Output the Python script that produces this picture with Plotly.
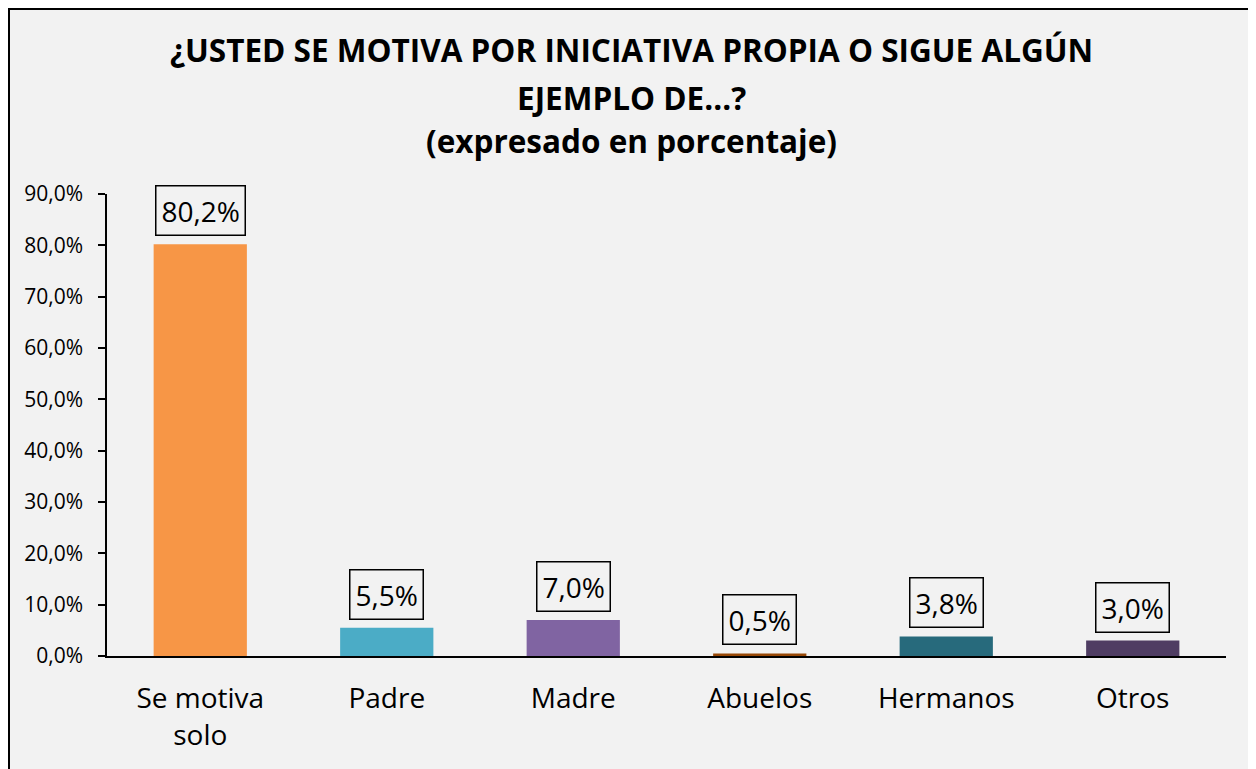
import plotly.graph_objects as go

categories = ["Se motiva<br>solo", "Padre", "Madre", "Abuelos", "Hermanos", "Otros"]
values = [80.2, 5.5, 7.0, 0.5, 3.8, 3.0]
value_labels = ["80,2%", "5,5%", "7,0%", "0,5%", "3,8%", "3,0%"]
colors = ["#f79646", "#4bacc6", "#8064a2", "#984807", "#276a7c", "#4f3d63"]
title_lines = [
    "¿USTED SE MOTIVA POR INICIATIVA PROPIA O SIGUE ALGÚN",
    "EJEMPLO DE...?",
    "(expresado en porcentaje)",
]
y_tick_values = [0, 10, 20, 30, 40, 50, 60, 70, 80, 90]
y_tick_labels = ["0,0%", "10,0%", "20,0%", "30,0%", "40,0%", "50,0%",
                 "60,0%", "70,0%", "80,0%", "90,0%"]

FONT = "Open Sans"
OFF = 8  # page body margin
W, H = 1256 - OFF, 769 - OFF
L, R, T, B = 107 - OFF, 1256 - 1226, 194 - OFF, 769 - 656
pw, ph = W - L - R, H - T - B


def px_x(px):
    return (px - OFF - L) / pw


def px_y(py):
    return (H - B - (py - OFF)) / ph


fig = go.Figure()
fig.add_trace(go.Bar(
    x=categories, y=values, marker=dict(color=colors, line=dict(width=0)),
    width=0.5, hoverinfo="skip",
))

annotations = []
for c, v, t in zip(categories, values, value_labels):
    annotations.append(dict(
        x=c, y=v, xref="x", yref="y", text=t, showarrow=False,
        yanchor="bottom", yshift=8,
        font=dict(family=FONT, size=28, color="#000000"),
        bordercolor="#000000", borderwidth=1.5, borderpad=5,
    ))

title_y = [49, 97, 140]
for line, py in zip(title_lines, title_y):
    annotations.append(dict(
        x=px_x(631), y=px_y(py), xref="paper", yref="paper", text="<b>" + line + "</b>",
        showarrow=False, xanchor="center", yanchor="middle",
        font=dict(family=FONT, size=31.5, color="#000000"),
    ))

fig.update_layout(
    width=W, height=H,
    margin=dict(l=L, r=R, t=T, b=B, pad=0),
    paper_bgcolor="#ffffff",
    plot_bgcolor="rgba(0,0,0,0)",
    showlegend=False,
    bargap=0.5,
    annotations=annotations,
    shapes=[dict(
        type="rect", xref="paper", yref="paper", layer="below",
        x0=px_x(OFF + 1), x1=px_x(1255), y0=px_y(790), y1=px_y(OFF + 1),
        fillcolor="#f2f2f2", line=dict(color="#000000", width=2),
    )],
    xaxis=dict(
        showline=True, linecolor="#000000", linewidth=1.5,
        showgrid=False, ticks="", ticklabelstandoff=17,
        tickfont=dict(family=FONT, size=28, color="#000000"),
        fixedrange=True,
    ),
    yaxis=dict(
        range=[0, 90], tickvals=y_tick_values, ticktext=y_tick_labels,
        showline=True, linecolor="#000000", linewidth=1.5,
        ticks="outside", ticklen=7, tickcolor="#000000", tickwidth=1.5,
        showgrid=False, zeroline=False, ticklabelstandoff=11,
        tickfont=dict(family=FONT, size=21, color="#000000"),
        fixedrange=True,
    ),
)

fig.write_html("out.html")
